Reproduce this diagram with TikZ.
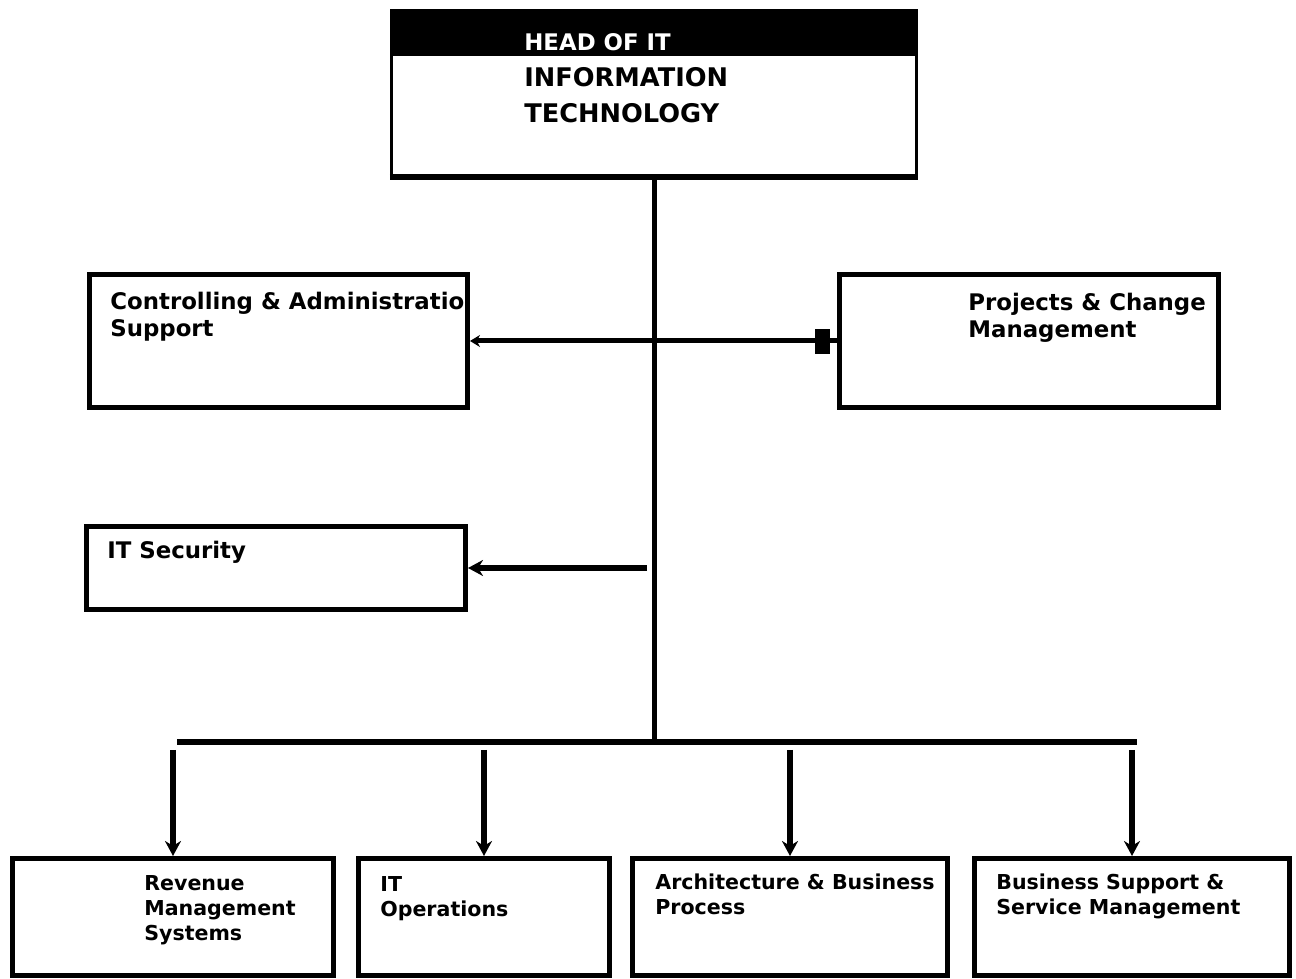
\documentclass[tikz,border=0pt]{standalone}
\usepackage{fontspec}
\setmainfont{DejaVu Sans}
\usetikzlibrary{arrows.meta,positioning}
\begin{document}
\begin{tikzpicture}[x=0.2mm, y=-0.2mm,
	unit box/.style={draw, line width=1mm, inner sep=0pt},
	unit text/.style={font=\bfseries\fontsize{13}{15.4}\selectfont, align=left, anchor=north west, inner sep=0pt},
	low text/.style={unit text, font=\bfseries\fontsize{11.7}{14.2}\selectfont},
	link/.style={line width=1mm},
	link arrow/.style={line width=1.1mm, -{Stealth[length=3mm,width=3.2mm]}}]
	\useasboundingbox (0,0) rectangle (1296,979);
	% head of department
	\node[unit box, line width=0.6mm, minimum width=10.5cm, minimum height=3.3cm] (head) at (654,93) {};
	\fill (head.north west) rectangle ([yshift=-0.94cm]head.north east);
	\draw[line width=1.2mm] (head.south west) -- (head.south east);
	\node[font=\bfseries\fontsize{13}{15}\selectfont, text=white, anchor=west, inner sep=0pt] (headtitle) at (524,42) {HEAD OF IT};
	\node[unit text, font=\bfseries\fontsize{14.6}{20.5}\selectfont] (headname) at (524,67) {INFORMATION\\TECHNOLOGY};
	% staff units
	\node[unit box, minimum width=7.56cm, minimum height=2.66cm] (ctrl) at (278.5,341) {};
	\node[unit text] (ctrltext) at (110,292) {Controlling \& Administratio\\Support};
	\node[unit box, minimum width=7.58cm, minimum height=2.66cm] (proj) at (1029,341) {};
	\node[unit text] (projtext) at (968,293) {Projects \& Change\\Management};
	\node[unit box, minimum width=7.58cm, minimum height=1.66cm] (sec) at (276,568) {};
	\node[unit text] (sectext) at (107,541) {IT Security};
	% line units
	\foreach \n/\x/\w in {rev/173/6.42, ops/484/5.02, arch/790/6.3, bss/1132/6.3}{
		\node[unit box, minimum width=\w cm, minimum height=2.34cm] (\n) at (\x,917) {};
	}
	\node[low text] (revtext) at (144,875) {Revenue\\Management\\Systems};
	\node[low text] (opstext) at (380,876) {IT\\Operations};
	\node[low text] (archtext) at (655,874) {Architecture \& Business\\Process};
	\node[low text] (bsstext) at (996,874) {Business Support \&\\Service Management};
	% connectors
	\coordinate (bus) at (654,742);
	\coordinate (busleft) at (177,742);
	\coordinate (busright) at (1137,742);
	\coordinate (secfeed) at (647,568);
	\draw[link] (head.south) -- (bus);
	\draw[link, line width=1.2mm] (busleft) -- (busright);
	\draw[link, -{Stealth[length=2mm,width=2.4mm]}] (proj.west) -- (ctrl.east);
	\node[fill, minimum width=0.3cm, minimum height=0.5cm, inner sep=0pt] (projmark) at (822,342) {};
	\draw[link arrow] (secfeed) -- (sec.east);
	\foreach \n in {rev, ops, arch, bss}{
		\draw[link arrow, shorten <=1.6mm] (\n.north |- bus) -- (\n.north);
	}
\end{tikzpicture}
\end{document}
